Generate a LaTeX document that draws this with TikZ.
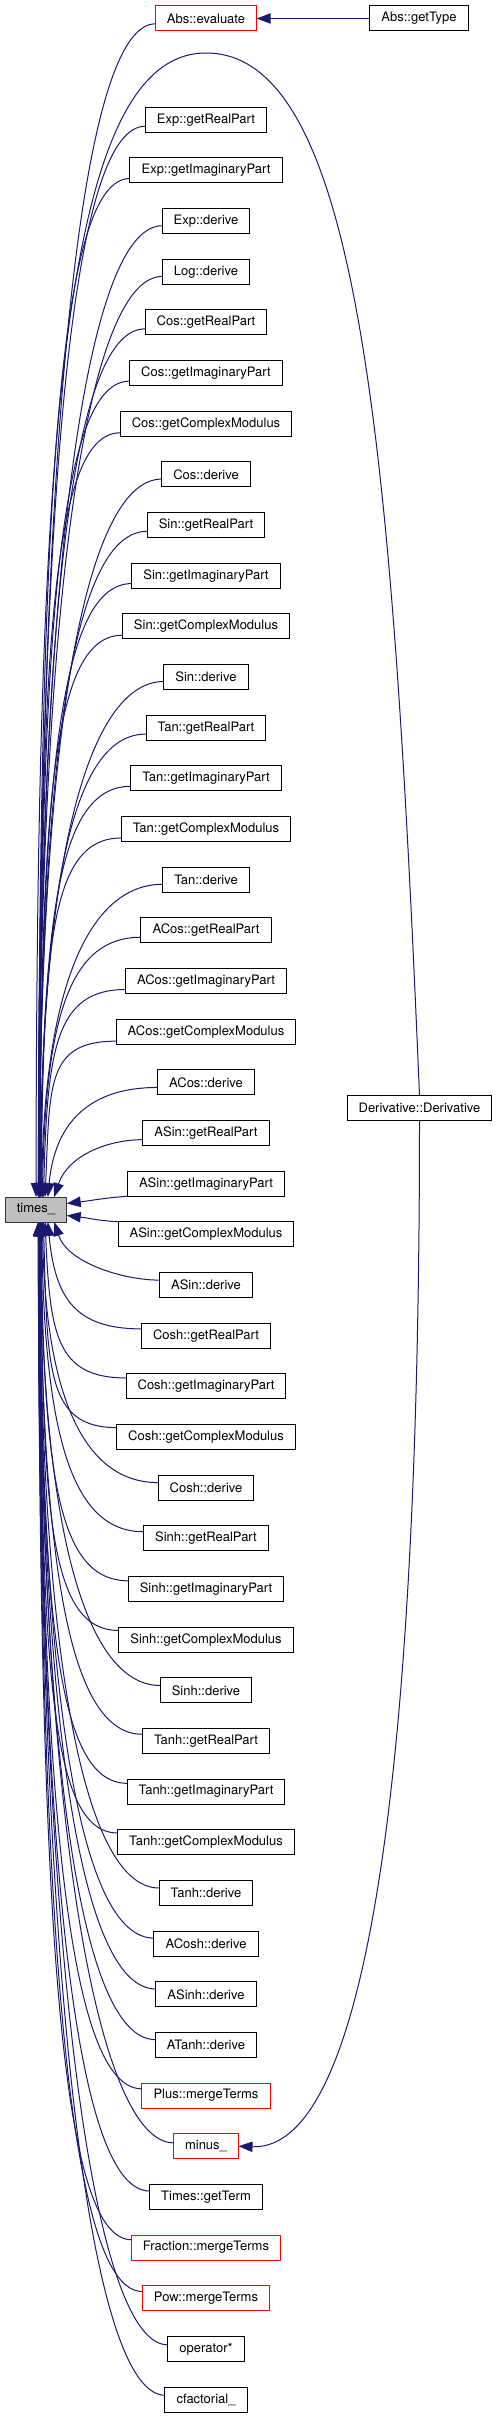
\documentclass[tikz,border=0pt]{standalone}
\usepackage{fontspec}
\setmainfont{TeX Gyre Heros}
\usepackage{tikz}
\usetikzlibrary{arrows.meta,positioning,calc}
\definecolor{edgeblue}{RGB}{25,25,112}
\definecolor{curgray}{RGB}{191,191,191}

\begin{document}
\begin{tikzpicture}[
    x=0.75pt, y=-0.75pt,
    node distance=19.245pt,
    fnbox/.style={rectangle, draw=black, line width=0.75pt, fill=white, minimum height=18.75pt, inner xsep=8.7pt, inner ysep=0pt, outer sep=0pt, font=\fontsize{9.75}{11}\selectfont},
    redbox/.style={fnbox, draw=red},
    curbox/.style={fnbox, fill=curgray, draw=black!80},
    call/.style={-{Triangle[length=10.5pt,width=7.8pt]}, line width=0.75pt, draw=edgeblue}
]
    \useasboundingbox (0,0) rectangle (499,2419);

    % the function itself
    \node [curbox] (times) at (36,1209.5) {times\_};

    % callers, one per row
    \node [redbox] (absev) at (206,18.5) {Abs::evaluate};
    \node [fnbox, below=57.24pt of absev] (expre) {Exp::getRealPart};
    \node [fnbox, below=of expre] (expim) {Exp::getImaginaryPart};
    \node [fnbox, below=of expim] (expder) {Exp::derive};
    \node [fnbox, below=of expder] (logder) {Log::derive};
    \node [fnbox, below=of logder] (cosre) {Cos::getRealPart};
    \node [fnbox, below=of cosre] (cosim) {Cos::getImaginaryPart};
    \node [fnbox, below=of cosim] (cosmod) {Cos::getComplexModulus};
    \node [fnbox, below=of cosmod] (cosder) {Cos::derive};
    \node [fnbox, below=of cosder] (sinre) {Sin::getRealPart};
    \node [fnbox, below=of sinre] (sinim) {Sin::getImaginaryPart};
    \node [fnbox, below=of sinim] (sinmod) {Sin::getComplexModulus};
    \node [fnbox, below=of sinmod] (sinder) {Sin::derive};
    \node [fnbox, below=of sinder] (tanre) {Tan::getRealPart};
    \node [fnbox, below=of tanre] (tanim) {Tan::getImaginaryPart};
    \node [fnbox, below=of tanim] (tanmod) {Tan::getComplexModulus};
    \node [fnbox, below=of tanmod] (tander) {Tan::derive};
    \node [fnbox, below=of tander] (acosre) {ACos::getRealPart};
    \node [fnbox, below=of acosre] (acosim) {ACos::getImaginaryPart};
    \node [fnbox, below=of acosim] (acosmod) {ACos::getComplexModulus};
    \node [fnbox, below=of acosmod] (acosder) {ACos::derive};
    \node [fnbox, below=of acosder] (asinre) {ASin::getRealPart};
    \node [fnbox, below=of asinre] (asinim) {ASin::getImaginaryPart};
    \node [fnbox, below=of asinim] (asinmod) {ASin::getComplexModulus};
    \node [fnbox, below=of asinmod] (asinder) {ASin::derive};
    \node [fnbox, below=of asinder] (coshre) {Cosh::getRealPart};
    \node [fnbox, below=of coshre] (coshim) {Cosh::getImaginaryPart};
    \node [fnbox, below=of coshim] (coshmod) {Cosh::getComplexModulus};
    \node [fnbox, below=of coshmod] (coshder) {Cosh::derive};
    \node [fnbox, below=of coshder] (sinhre) {Sinh::getRealPart};
    \node [fnbox, below=of sinhre] (sinhim) {Sinh::getImaginaryPart};
    \node [fnbox, below=of sinhim] (sinhmod) {Sinh::getComplexModulus};
    \node [fnbox, below=of sinhmod] (sinhder) {Sinh::derive};
    \node [fnbox, below=of sinhder] (tanhre) {Tanh::getRealPart};
    \node [fnbox, below=of tanhre] (tanhim) {Tanh::getImaginaryPart};
    \node [fnbox, below=of tanhim] (tanhmod) {Tanh::getComplexModulus};
    \node [fnbox, below=of tanhmod] (tanhder) {Tanh::derive};
    \node [fnbox, below=of tanhder] (acoshder) {ACosh::derive};
    \node [fnbox, below=of acoshder] (asinhder) {ASinh::derive};
    \node [fnbox, below=of asinhder] (atanhder) {ATanh::derive};
    \node [redbox, below=of atanhder] (plusmerge) {Plus::mergeTerms};
    \node [redbox, below=of plusmerge] (minus) {minus\_};
    \node [fnbox, below=of minus] (timesterm) {Times::getTerm};
    \node [redbox, below=of timesterm] (fracmerge) {Fraction::mergeTerms};
    \node [redbox, below=of fracmerge] (powmerge) {Pow::mergeTerms};
    \node [fnbox, below=of powmerge] (opmul) {operator*};
    \node [fnbox, below=of opmul] (cfact) {cfactorial\_};

    % second level
    \node [fnbox] (abstype) at (419,18.5) {Abs::getType};
    \node [fnbox] (deriv) at (419.5,1108) {Derivative::Derivative};
    \coordinate (dtop) at (206,53);

    % calls from above
    \foreach \src/\row in {absev/0, expre/2, expim/3, expder/4, logder/5,
        cosre/6, cosim/7, cosmod/8, cosder/9, sinre/10, sinim/11, sinmod/12, sinder/13,
        tanre/14, tanim/15, tanmod/16, tander/17, acosre/18, acosim/19, acosmod/20,
        acosder/21, asinre/22} {
        \pgfmathsetmacro{\dy}{(23.5-\row)*50.66-17}
        \pgfmathsetmacro{\xo}{18*pow(60/\dy,0.7)}
        \pgfmathsetmacro{\ca}{min(70,0.6*\dy)}
        \pgfmathsetmacro{\cb}{0.7*\dy}
        \pgfmathsetmacro{\cx}{min(20,800/\dy)}
        \draw [call] (\src.186) .. controls +(-\ca,0) and +(\cx,-\cb) .. ($(times.north)+(\xo,0)$);
    }

    % calls from below
    \foreach \src/\row in {asinder/25, coshre/26, coshim/27, coshmod/28, coshder/29,
        sinhre/30, sinhim/31, sinhmod/32, sinhder/33, tanhre/34, tanhim/35, tanhmod/36,
        tanhder/37, acoshder/38, asinhder/39, atanhder/40, plusmerge/41, minus/42,
        timesterm/43, fracmerge/44, powmerge/45, opmul/46, cfact/47} {
        \pgfmathsetmacro{\dy}{(\row-23.5)*50.66-17}
        \pgfmathsetmacro{\xo}{18*pow(60/\dy,0.7)}
        \pgfmathsetmacro{\ca}{min(70,0.6*\dy)}
        \pgfmathsetmacro{\cb}{0.7*\dy}
        \pgfmathsetmacro{\cx}{min(20,800/\dy)}
        \draw [call] (\src.174) .. controls +(-\ca,0) and +(\cx,\cb) .. ($(times.south)+(\xo,0)$);
    }

    % the two neighbours
    \draw [call] (asinim.south west) .. controls +(-25,2) and +(25,-3) .. ($(times.east)+(0,-6)$);
    \draw [call] (asinmod.north west) .. controls +(-25,-2) and +(25,3) .. ($(times.east)+(0,6)$);

    \draw [call] (abstype) -- (absev);
    \draw [call] (deriv.north) .. controls +(-27,-645) and +(154,0) .. (dtop)
        .. controls +(-146,0) and +(1,-747) .. (times.north);
    \draw [call] (deriv.south) .. controls +(0,779) and +(107,4) .. (minus.east);
\end{tikzpicture}
\end{document}
